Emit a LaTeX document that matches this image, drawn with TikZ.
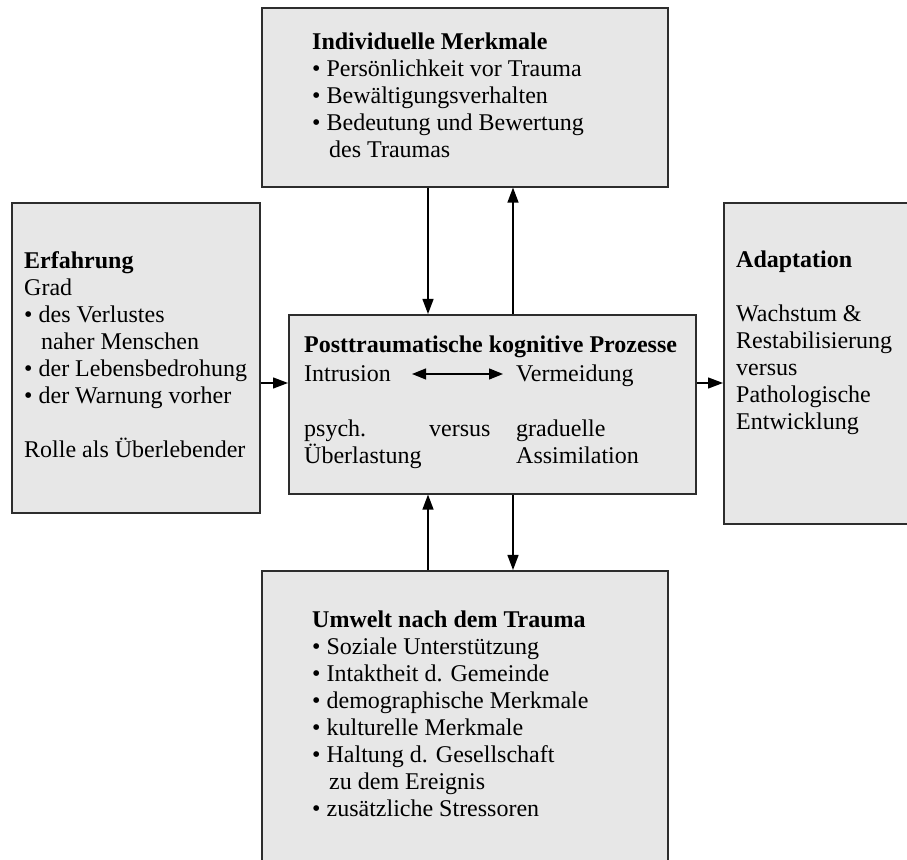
\documentclass[tikz,border=0pt]{standalone}
\usepackage{fontspec}
\setmainfont{Liberation Serif}
\usetikzlibrary{positioning, arrows.meta}
\definecolor{boxfill}{RGB}{231, 231, 231}
\definecolor{boxline}{RGB}{45, 45, 45}
\tikzset{
  panel/.style={draw=boxline, fill=boxfill, line width=1.6pt, anchor=north west,
                inner sep=0pt},
  txt/.style={align=left, anchor=base west, inner sep=0pt,
              font=\fontsize{24}{27}\selectfont},
  flow/.style={-{Triangle[length=15pt, width=11pt]}, line width=1.3pt},
  both/.style={{Triangle[length=14pt, width=11pt]}-{Triangle[length=14pt, width=11pt]},
               line width=1.3pt},
}
\newcommand{\itm}{\textbullet\ }
\newcommand{\cont}{\hspace*{17pt}}

\begin{document}
\begin{tikzpicture}[x=1pt, y=1pt]
  \useasboundingbox (0,0) rectangle (907,859);
  \clip (0,0) rectangle (907,859);

  % panels
  \node[panel, minimum width=406pt, minimum height=179pt] (indiv) at (261,852) {};
  \node[panel, minimum width=248pt, minimum height=310pt] (erf) at (11,657) {};
  \node[panel, minimum width=407pt, minimum height=179pt] (proz) at (288,545) {};
  \node[panel, minimum width=260pt, minimum height=321pt] (adapt) at (723,657) {};
  \node[panel, minimum width=406pt, minimum height=320pt] (umw) at (261,289) {};

  % panel texts (base = last line)
  \node[txt] (indivtxt) at ([shift={(51pt,-151pt)}]indiv.north west)
    {\textbf{Individuelle Merkmale}\\
     \itm Persönlichkeit vor Trauma\\
     \itm Bewältigungsverhalten\\
     \itm Bedeutung und Bewertung\\
     \cont des Traumas};
  \node[txt] (erftxt) at ([shift={(13pt,-256pt)}]erf.north west)
    {\textbf{Erfahrung}\\
     Grad\\
     \itm des Verlustes\\
     \cont naher Menschen\\
     \itm der Lebensbedrohung\\
     \itm der Warnung vorher\\[27pt]
     Rolle als Überlebender};
  \node[txt] (adapttxt) at ([shift={(13pt,-228pt)}]adapt.north west)
    {\textbf{Adaptation}\\[27pt]
     Wachstum \&\\
     Restabilisierung\\
     versus\\
     Pathologische\\
     Entwicklung};
  \node[txt] (umwtxt) at ([shift={(51pt,-247pt)}]umw.north west)
    {\textbf{Umwelt nach dem Trauma}\\
     \itm Soziale Unterstützung\\
     \itm Intaktheit d. Gemeinde\\
     \itm demographische Merkmale\\
     \itm kulturelle Merkmale\\
     \itm Haltung d. Gesellschaft\\
     \cont zu dem Ereignis\\
     \itm zusätzliche Stressoren};

  % centre panel
  \node[txt] (ptitle) at ([shift={(16pt,-39pt)}]proz.north west)
    {\textbf{Posttraumatische kognitive Prozesse}};
  \node[txt] (intr) at ([yshift=-29pt]ptitle.base west) {Intrusion};
  \node[txt] (verm) at ([xshift=212pt]intr.base west) {Vermeidung};
  \node[txt] (psy) at ([yshift=-55pt]intr.base west) {psych.};
  \node[txt] (ueb) at ([yshift=-27pt]psy.base west) {Überlastung};
  \node[txt] (vers) at ([xshift=125pt]psy.base west) {versus};
  \node[txt] (grad) at ([xshift=212pt]psy.base west) {graduelle};
  \node[txt] (assim) at ([xshift=212pt]ueb.base west) {Assimilation};
  \draw[both] ([shift={(21pt,8pt)}]intr.base east) -- ([shift={(-13pt,8pt)}]verm.base west);

  % connectors
  \coordinate (down) at (428,0);
  \coordinate (up) at (513,0);
  \coordinate (side) at (0,476);
  \draw[flow] (down |- indiv.south) -- (down |- proz.north);
  \draw[flow] (up |- proz.north) -- (up |- indiv.south);
  \draw[flow] (down |- umw.north) -- (down |- proz.south);
  \draw[flow] (up |- proz.south) -- (up |- umw.north);
  \draw[flow] (side -| erf.east) -- (side -| proz.west);
  \draw[flow] (side -| proz.east) -- (side -| adapt.west);
\end{tikzpicture}
\end{document}
